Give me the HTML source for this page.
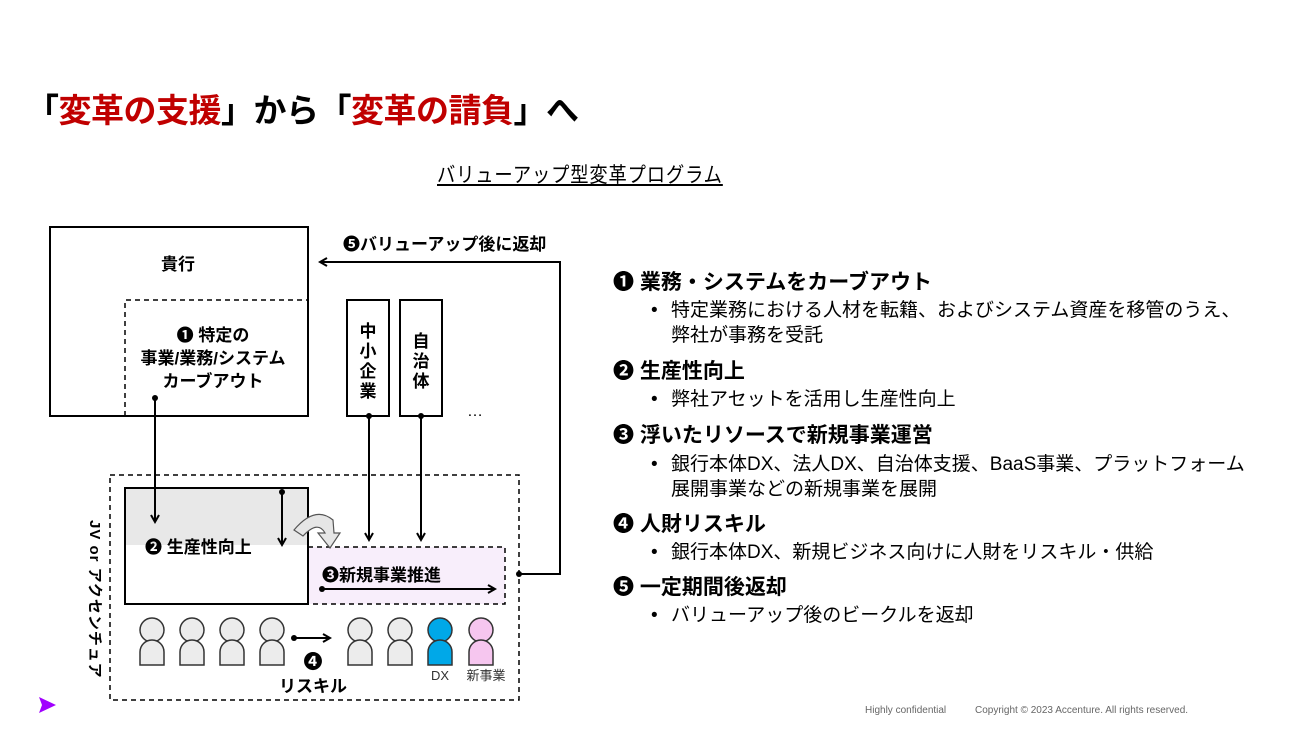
<!DOCTYPE html>
<html><head><meta charset="utf-8"><style>
body{margin:0;width:1299px;height:732px;background:#fff;overflow:hidden;position:relative;font-family:"Liberation Sans","Noto Sans CJK JP",sans-serif;color:#000}
.a{position:absolute;white-space:nowrap}
.h{font-weight:bold;font-size:21px;left:613px}
.b{font-size:19px;left:651px;line-height:25px}
.b span{display:inline-block;width:20px}
</style></head><body>
<div class="a" style="left:26px;top:84px;font-size:33px;font-weight:bold;letter-spacing:-0.5px">「<span style="color:#c00000">変革の支援</span>」から「<span style="color:#c00000">変革の請負</span>」へ</div>
<div class="a" style="left:437px;top:159px;font-size:21px;text-decoration:underline;letter-spacing:1px;transform:scaleX(0.87);transform-origin:0 0">バリューアップ型変革プログラム</div>

<svg class="a" style="left:0;top:0" width="1299" height="732" font-family="Liberation Sans, Noto Sans CJK JP, sans-serif">
<defs><marker id="ar" markerWidth="10" markerHeight="10" refX="8" refY="5" orient="auto" markerUnits="userSpaceOnUse"><path d="M1,1 L8,5 L1,9" fill="none" stroke="#000" stroke-width="2"/></marker></defs>
<rect x="50" y="227" width="258" height="189" fill="#fff" stroke="#000" stroke-width="2"/>
<path d="M125,416 V300 H308" fill="none" stroke="#000" stroke-width="1.5" stroke-dasharray="5,4"/>
<text x="178" y="270" font-size="17" font-weight="bold" text-anchor="middle">貴行</text>
<text x="213" y="341" font-size="17" font-weight="bold" text-anchor="middle">❶ 特定の</text>
<text x="213" y="364" font-size="17" font-weight="bold" text-anchor="middle">事業/業務/システム</text>
<text x="213" y="387" font-size="17" font-weight="bold" text-anchor="middle">カーブアウト</text>
<rect x="347" y="300" width="42" height="116" fill="#fff" stroke="#000" stroke-width="2"/>
<rect x="400" y="300" width="42" height="116" fill="#fff" stroke="#000" stroke-width="2"/>
<text font-size="17" font-weight="bold" text-anchor="middle"><tspan x="368" y="337">中</tspan><tspan x="368" y="357">小</tspan><tspan x="368" y="377">企</tspan><tspan x="368" y="397">業</tspan><tspan x="421" y="347">自</tspan><tspan x="421" y="367">治</tspan><tspan x="421" y="387">体</tspan></text>
<text x="475" y="416" font-size="16" text-anchor="middle">…</text>
<rect x="110" y="475" width="409" height="225" fill="none" stroke="#000" stroke-width="1.5" stroke-dasharray="5,4"/>
<rect x="125" y="488" width="183" height="116" fill="#fff" stroke="#000" stroke-width="2"/>
<rect x="126" y="489" width="181" height="56" fill="#e8e8e8"/>
<rect x="308" y="547" width="197" height="57" fill="#f8eefb" stroke="#000" stroke-width="1.5" stroke-dasharray="5,4"/>
<path d="M308,488 V604" stroke="#000" stroke-width="2"/>
<text x="145" y="553" font-size="17" font-weight="bold">❷ 生産性向上</text>
<text x="322" y="581" font-size="17" font-weight="bold">❸新規事業推進</text>
<g stroke="#000" stroke-width="2" fill="none" marker-end="url(#ar)">
<path d="M155,398 V522"/><path d="M282,492 V545"/><path d="M369,416 V540"/><path d="M421,416 V540"/>
<path d="M322,589 H495"/><path d="M294,638 H330"/>
<path d="M519,574 H560 V262 H320"/>
</g>
<g fill="#000"><circle cx="155" cy="398" r="3"/><circle cx="282" cy="492" r="3"/><circle cx="369" cy="416" r="3"/><circle cx="421" cy="416" r="3"/><circle cx="322" cy="589" r="3"/><circle cx="294" cy="638" r="3"/><circle cx="519" cy="574" r="3"/></g>
<path d="M294,530 Q315,505 333,520 L334,533 L340,533 L330,548 L318,533 L325,533 Q318,520 303,536 Z" fill="#e6e6e6" stroke="#555" stroke-width="1.2"/>
<text x="343" y="250" font-size="17" font-weight="bold">❺バリューアップ後に返却</text>
<g stroke="#333" stroke-width="1.5">
<g fill="#ececec">
<circle cx="152" cy="630" r="12"/><path d="M140,665 V652 a12,12 0 0 1 24,0 V665 Z"/>
<circle cx="192" cy="630" r="12"/><path d="M180,665 V652 a12,12 0 0 1 24,0 V665 Z"/>
<circle cx="232" cy="630" r="12"/><path d="M220,665 V652 a12,12 0 0 1 24,0 V665 Z"/>
<circle cx="272" cy="630" r="12"/><path d="M260,665 V652 a12,12 0 0 1 24,0 V665 Z"/>
<circle cx="360" cy="630" r="12"/><path d="M348,665 V652 a12,12 0 0 1 24,0 V665 Z"/>
<circle cx="400" cy="630" r="12"/><path d="M388,665 V652 a12,12 0 0 1 24,0 V665 Z"/>
</g>
<g fill="#00a8e8"><circle cx="440" cy="630" r="12"/><path d="M428,665 V652 a12,12 0 0 1 24,0 V665 Z"/></g>
<g fill="#f6c6ef"><circle cx="481" cy="630" r="12"/><path d="M469,665 V652 a12,12 0 0 1 24,0 V665 Z"/></g>
</g>
<text x="313" y="668" font-size="19" font-weight="bold" text-anchor="middle">❹</text>
<text x="313" y="692" font-size="17" font-weight="bold" text-anchor="middle">リスキル</text>
<text x="440" y="680" font-size="13" fill="#333" text-anchor="middle">DX</text>
<text x="486" y="680" font-size="13" fill="#333" text-anchor="middle">新事業</text>
<text transform="translate(90,520) rotate(90)" font-size="15" font-weight="bold" letter-spacing="1">JV or アクセンチュア</text>
<path d="M39,697 L56,705 L39,713 L42,705 Z" fill="#a100ff"/>
<text x="865" y="713" font-size="10" fill="#666">Highly confidential</text>
<text x="975" y="713" font-size="10" fill="#666">Copyright © 2023 Accenture. All rights reserved.</text>
</svg>

<div class="a h" style="top:266px">❶ 業務・システムをカーブアウト</div>
<div class="a b" style="top:298px"><span>•</span>特定業務における人材を転籍、およびシステム資産を移管のうえ、<br><span></span>弊社が事務を受託</div>
<div class="a h" style="top:355px">❷ 生産性向上</div>
<div class="a b" style="top:387px"><span>•</span>弊社アセットを活用し生産性向上</div>
<div class="a h" style="top:419px">❸ 浮いたリソースで新規事業運営</div>
<div class="a b" style="top:452px"><span>•</span>銀行本体DX、法人DX、自治体支援、BaaS事業、プラットフォーム<br><span></span>展開事業などの新規事業を展開</div>
<div class="a h" style="top:508px">❹ 人財リスキル</div>
<div class="a b" style="top:540px"><span>•</span>銀行本体DX、新規ビジネス向けに人財をリスキル・供給</div>
<div class="a h" style="top:571px">❺ 一定期間後返却</div>
<div class="a b" style="top:603px"><span>•</span>バリューアップ後のビークルを返却</div>
</body></html>
